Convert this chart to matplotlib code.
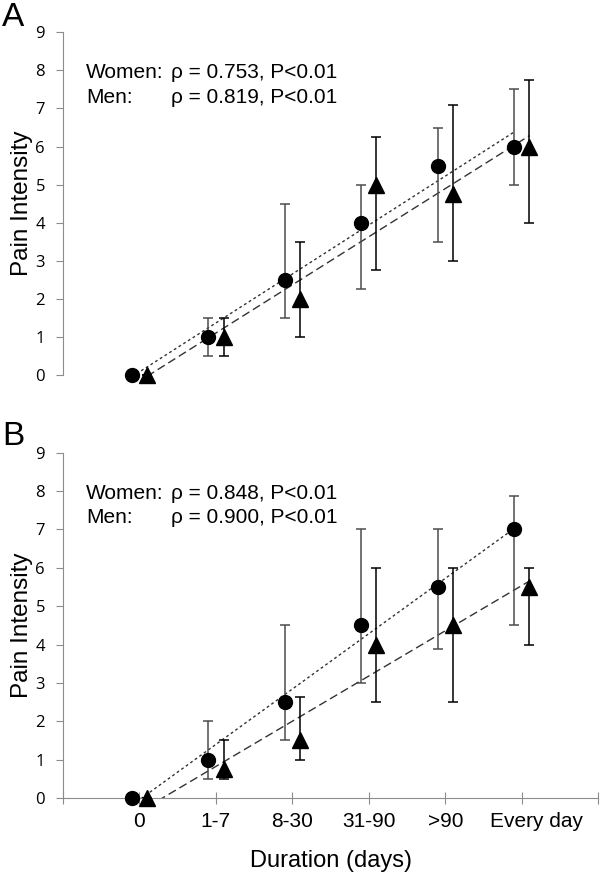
import numpy as np
import matplotlib
matplotlib.use('Agg')
import matplotlib.pyplot as plt
from matplotlib.transforms import ScaledTranslation

plt.rcParams['font.family'] = ['Liberation Sans', 'DejaVu Sans']

categories = ['0', '1-7', '8-30', '31-90', '>90', 'Every day']

# panel A
a_women = [0, 1, 2.5, 4, 5.5, 6]
a_women_lo = [0, 0.5, 1.5, 2.25, 3.5, 5]
a_women_hi = [0, 1.5, 4.5, 5, 6.5, 7.5]
a_men = [0, 1, 2, 5, 4.75, 6]
a_men_lo = [0, 0.5, 1, 2.75, 3, 4]
a_men_hi = [0, 1.5, 3.5, 6.25, 7.1, 7.75]

# panel B
b_women = [0, 1, 2.5, 4.5, 5.5, 7]
b_women_lo = [0, 0.5, 1.5, 3, 3.875, 4.5]
b_women_hi = [0, 2, 4.5, 7, 7, 7.875]
b_men = [0, 0.75, 1.5, 4, 4.5, 5.5]
b_men_lo = [0, 0.5, 1, 2.5, 2.5, 4]
b_men_hi = [0, 1.5, 2.625, 6, 6, 6]

stats = {
    'A': ('0.753', '0.819'),
    'B': ('0.848', '0.900'),
}

GRAY = '#8c8c8c'


def draw_group(ax, x, y, lo, hi, marker, ecolor, ls, ms):
    x = np.asarray(x)
    y = np.asarray(y)
    yerr = [y - np.asarray(lo), np.asarray(hi) - y]
    ax.errorbar(x, y, yerr=yerr, fmt='none', ecolor=ecolor, elinewidth=1.1,
                capsize=3.8, capthick=1.1, zorder=2)
    ax.plot(x, y, marker, color='black', ms=ms, ls='none', zorder=3,
            clip_on=False)
    k, b = np.polyfit(x, y, 1)
    ax.plot(x[[0, -1]], k * x[[0, -1]] + b, color='#333333', lw=1.0,
            ls=ls, zorder=1)


def panel(ax, letter, women, wlo, whi, men, mlo, mhi, show_x):
    pos = np.arange(1, len(categories) + 1)
    draw_group(ax, pos - 0.1, women, wlo, whi, 'o', '#4d4d4d', (0, (2, 2)), 10)
    draw_group(ax, pos + 0.1, men, mlo, mhi, '^', 'black', (0, (6, 3)), 11)

    ax.set_xlim(0, 7)
    ax.set_ylim(0, 9)
    ax.set_yticks(range(10))
    ax.tick_params(axis='y', direction='out', length=5, color=GRAY,
                   labelsize=12, pad=8)
    for lab in ax.get_yticklabels():
        lab.set_family(['Open Sans', 'DejaVu Sans'])
    for side in ('top', 'right'):
        ax.spines[side].set_visible(False)
    ax.spines['left'].set_color(GRAY)
    ax.set_ylabel('Pain Intensity', fontsize=17.5, labelpad=2)

    if show_x:
        ax.spines['bottom'].set_color(GRAY)
        ax.set_xticks(range(8))
        ax.set_xticklabels([''] + categories + [''])
        ax.tick_params(axis='x', direction='inout', length=8, color=GRAY,
                       labelsize=15, pad=6)
        last = ax.get_xticklabels()[-2]
        last.set_transform(last.get_transform() +
                           ScaledTranslation(0.15, 0, ax.figure.dpi_scale_trans))
        ax.set_xlabel('Duration (days)', fontsize=17, labelpad=14)
    else:
        ax.spines['bottom'].set_visible(False)
        ax.set_xticks([])

    rw, rm = stats[letter]
    ax.text(0.30, 7.95, 'Women:', fontsize=15, va='center')
    ax.text(1.41, 7.95, f'\u03c1 = {rw}, P<0.01', fontsize=15, va='center')
    ax.text(0.30, 7.3, 'Men:', fontsize=15, va='center')
    ax.text(1.41, 7.3, f'\u03c1 = {rm}, P<0.01', fontsize=15, va='center')


fig = plt.figure(figsize=(6, 8.74), dpi=100)
ax_a = fig.add_axes([0.105, 0.571, 0.892, 0.392])
ax_b = fig.add_axes([0.105, 0.087, 0.892, 0.395])

panel(ax_a, 'A', a_women, a_women_lo, a_women_hi, a_men, a_men_lo, a_men_hi, False)
panel(ax_b, 'B', b_women, b_women_lo, b_women_hi, b_men, b_men_lo, b_men_hi, True)

fig.text(0.003, 0.998, 'A', fontsize=24, va='top', ha='left')
fig.text(0.003, 0.518, 'B', fontsize=24, va='top', ha='left')

fig.savefig('out.png', dpi=100)
